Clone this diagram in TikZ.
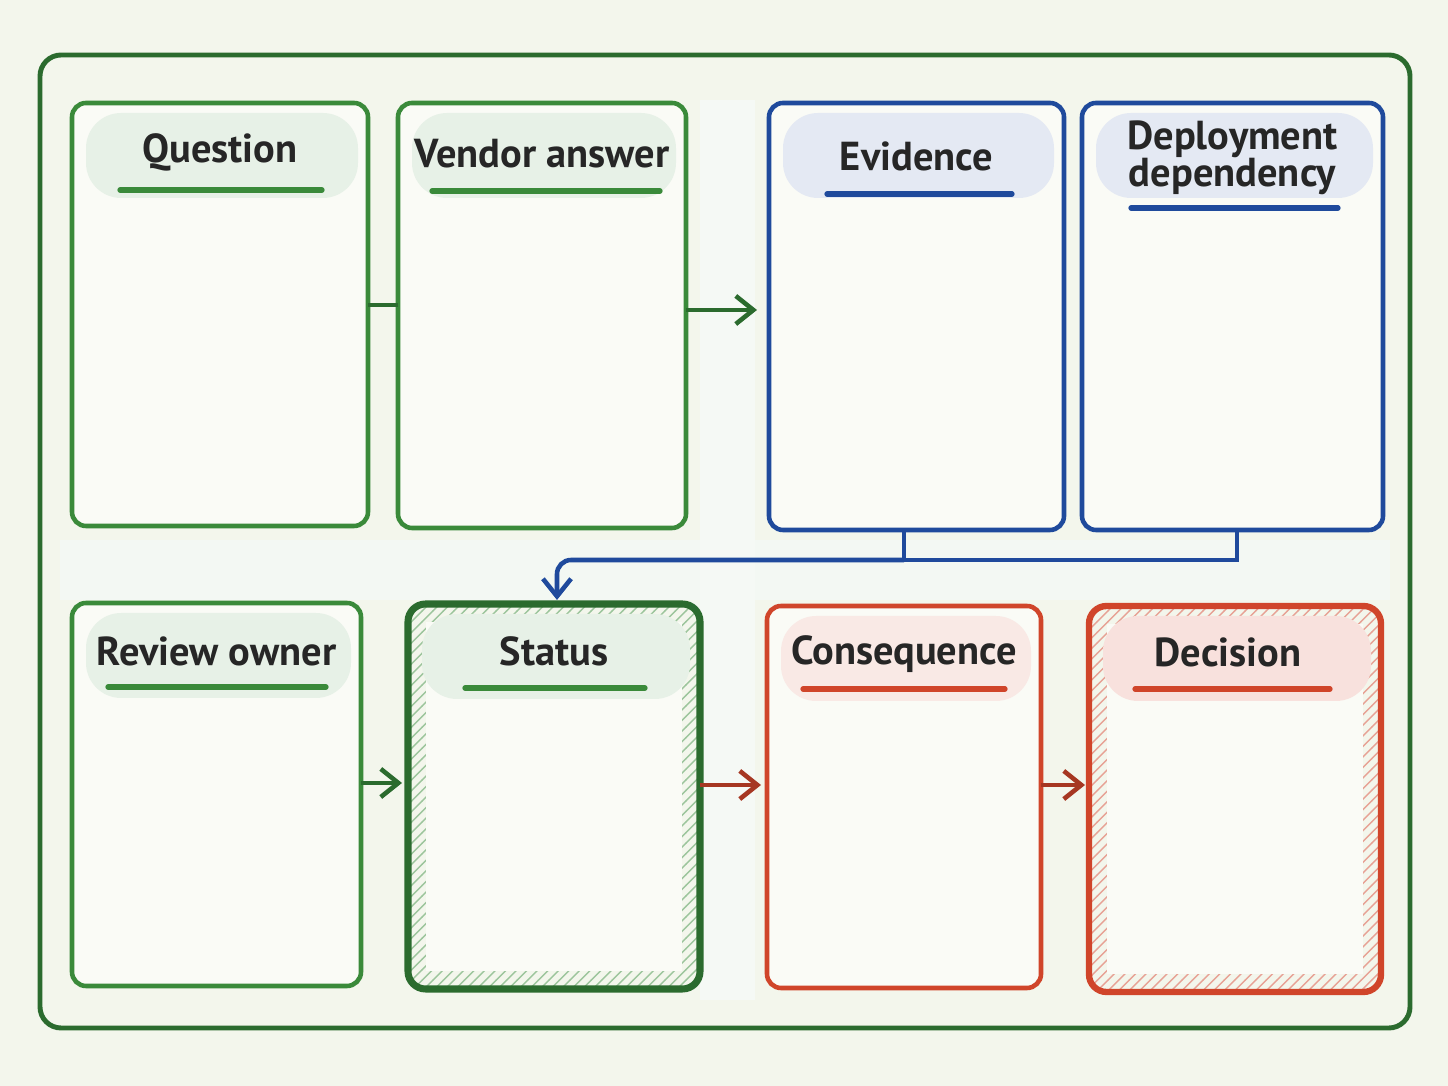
\documentclass[tikz,border=0pt]{standalone}
\usepackage{fontspec}
\setmainfont{PT Sans}
\usetikzlibrary{patterns,arrows.meta}
\definecolor{bg}{HTML}{F3F6EC}
\definecolor{dg}{HTML}{2B6B2E}
\definecolor{gr}{HTML}{3A8A3A}
\definecolor{bl}{HTML}{1F4A9C}
\definecolor{rd}{HTML}{D0452A}
\definecolor{paper}{HTML}{FAFBF6}
\begin{document}
\begin{tikzpicture}[x=0.01cm,y=-0.01cm,
  box/.style={draw=#1,line width=1.3pt,rounded corners=4pt,fill=paper},
  ttl/.style={font=\fontsize{11.5}{10.5}\selectfont\bfseries,text=black!85,align=center},
  arr/.style={-{Straight Barb[length=5pt,width=8pt]},line width=1.3pt,draw=#1},
  ln/.style={line width=1.3pt,draw=#1}]
\fill[bg] (0,0) rectangle (1448,1086);
\useasboundingbox (0,0) rectangle (1448,1086);
\fill[gr!6] (60,540) rectangle (1390,600);
\fill[gr!5] (700,100) rectangle (755,1000);
\draw[dg,line width=1.4pt,rounded corners=6pt] (40,55) rectangle (1410,1028);
\newcommand{\mybox}[8]{% name,x1,y1,x2,y2,col,title,ty
  \draw[box=#6] (#2,#3) rectangle (#4,#5);
  \fill[#6!12,rounded corners=10pt] (#2+14,#3+10) rectangle (#4-10,#3+95);
  \node[ttl] (#1) at ({(#2+#4)/2},#8) {#7};
  \coordinate (#1-w) at (#2,{(#3+#5)/2});
}
\mybox{q}{72}{103}{368}{526}{gr}{Question}{152}
\draw[gr,line width=1.5pt,line cap=round] (120,190) -- (322,190);
\mybox{v}{398}{103}{686}{528}{gr}{Vendor answer}{154}
\draw[gr,line width=1.5pt,line cap=round] (432,191) -- (660,191);
\mybox{e}{769}{103}{1064}{530}{bl}{Evidence}{156}
\draw[bl,line width=1.5pt,line cap=round] (827,194) -- (1012,194);
\mybox{d}{1082}{103}{1383}{530}{bl}{Deployment\\dependency}{158}
\draw[bl,line width=1.5pt,line cap=round] (1131,208) -- (1338,208);
\mybox{r}{72}{603}{361}{986}{gr}{Review owner}{651}
\draw[gr,line width=1.5pt,line cap=round] (108,687) -- (326,687);
\fill[pattern={north east lines},pattern color=gr!50,rounded corners=4pt] (408,604) rectangle (700,989);
\fill[paper] (426,622) rectangle (682,971);
\draw[dg,line width=2pt,rounded corners=5pt] (408,604) rectangle (700,989);
\fill[gr!12,rounded corners=10pt] (422,614) rectangle (690,699);
\node[ttl] (s) at (554,651) {Status};
\draw[gr,line width=1.5pt,line cap=round] (465,688) -- (645,688);
\mybox{c}{767}{606}{1041}{988}{rd}{Consequence}{654}
\draw[rd,line width=1.5pt,line cap=round] (803,689) -- (1005,689);
\fill[pattern={north east lines},pattern color=rd!50,rounded corners=4pt] (1089,606) rectangle (1381,992);
\fill[paper] (1107,624) rectangle (1363,974);
\draw[rd,line width=1.8pt,rounded corners=5pt] (1089,606) rectangle (1381,992);
\fill[rd!16,rounded corners=10pt] (1103,616) rectangle (1371,701);
\node[ttl] (dc) at (1228,652) {Decision};
\draw[rd,line width=1.5pt,line cap=round] (1135,689) -- (1330,689);
\coordinate (qe) at (368,305); \coordinate (vw) at (398,305);
\draw[ln=dg] (qe) -- (vw);
\coordinate (ve) at (686,310); \coordinate (ew) at (757,310);
\draw[arr=dg] (ve) -- (ew);
\coordinate (eb) at (904,530); \coordinate (db) at (1237,530); \coordinate (st) at (557,600);
\draw[ln=bl] (eb) -- (904,560); \draw[ln=bl] (db) -- (1237,560) -- (904,560);
\draw[arr=bl,rounded corners=4pt] (904,560) -- (557,560) -- (st);
\coordinate (re) at (361,783); \coordinate (sw) at (402,783);
\draw[arr=dg] (re) -- (sw);
\coordinate (se) at (700,785); \coordinate (cw) at (761,785);
\draw[arr=rd!80!black] (se) -- (cw);
\coordinate (ce) at (1041,785); \coordinate (dw) at (1085,785);
\draw[arr=rd!80!black] (ce) -- (dw);
\end{tikzpicture}
\end{document}
